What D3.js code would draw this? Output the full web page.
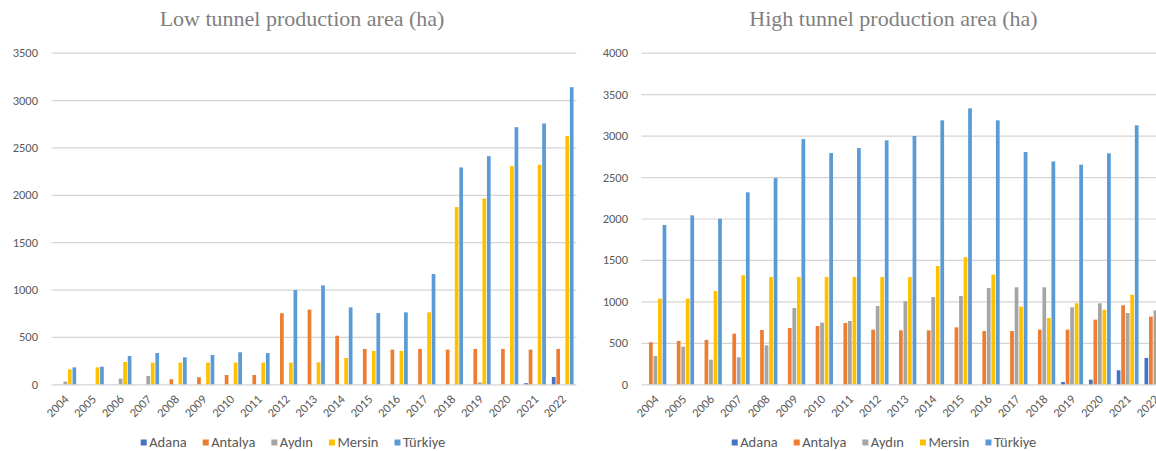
<!DOCTYPE html>
<html>
<head>
<meta charset="utf-8">
<script src="https://cdn.jsdelivr.net/npm/d3@7"></script>
<style>
  html, body { margin: 0; padding: 0; background: #fff; overflow: hidden; }
  svg { display: block; }
</style>
</head>
<body>
<svg id="chart" width="1156" height="451"></svg>
<script>
// ---------- data ----------
const years = ["2004","2005","2006","2007","2008","2009","2010","2011","2012","2013","2014","2015","2016","2017","2018","2019","2020","2021","2022"];
const seriesNames = ["Adana", "Antalya", "Aydın", "Mersin", "Türkiye"];
const seriesColors = ["#4472C4", "#ED7D31", "#A5A5A5", "#FFC000", "#5B9BD5"];

// Low tunnel production area (ha)
const lowAdana   = [0,0,0,0,0,0,0,0,0,0,0,0,0,0,0,0,0,12,77];
const lowAntalya = [0,0,0,0,53,74,98,98,750,788,513,373,366,373,366,373,373,366,373];
const lowAydin   = [28,0,60,88,0,0,0,0,0,0,0,0,0,0,0,20,0,0,0];
const lowMersin  = [158,179,236,229,229,229,229,229,229,232,278,352,352,760,1870,1962,2303,2317,2620];
const lowTurkiye = [179,186,299,330,285,309,338,330,995,1044,812,752,760,1164,2289,2408,2714,2753,3136];

// High tunnel production area (ha)
const highAdana   = [0,0,0,0,0,0,0,0,0,0,0,0,0,0,0,28,56,169,318];
const highAntalya = [507,523,535,611,655,679,703,740,659,651,651,687,643,643,659,659,780,953,816];
const highAydin   = [342,454,297,326,470,921,744,764,945,1001,1053,1065,1162,1170,1170,929,977,860,892];
const highMersin  = [1033,1033,1126,1315,1294,1294,1294,1294,1294,1294,1427,1532,1323,937,800,977,900,1081,1100];
const highTurkiye = [1922,2038,1998,2316,2488,2959,2790,2850,2943,2995,3184,3329,3184,2802,2689,2649,2786,3124,3200];

const lowTicks  = [0,500,1000,1500,2000,2500,3000,3500];
const highTicks = [0,500,1000,1500,2000,2500,3000,3500,4000];

const lowTitle  = "Low tunnel production area (ha)";
const highTitle = "High tunnel production area (ha)";

// ---------- drawing ----------
const svg = d3.select("#chart");
const sansFont = "Carlito, Lato, 'Liberation Sans', sans-serif";

function drawChart(cfg) {
  const g = svg.append("g");
  const x = d3.scaleBand().domain(years).range([cfg.x0, cfg.x1]).padding(0);
  const y = d3.scaleLinear().domain([0, cfg.yMax]).range([384.3, 52.7]);
  const groupW = x.bandwidth() * 0.815;
  const x1 = d3.scaleBand().domain(seriesNames).range([-groupW / 2, groupW / 2]);

  // gridlines
  const yAxis = d3.axisLeft(y).tickValues(cfg.ticks).tickSize(-(cfg.x1 - cfg.x0)).tickPadding(13.5).tickFormat(d3.format("d"));
  const ay = g.append("g").attr("transform", `translate(${cfg.x0},0)`).call(yAxis);
  ay.select(".domain").remove();
  ay.selectAll(".tick line").attr("stroke", "#d4d4d4").attr("stroke-width", 1.2);
  ay.selectAll(".tick text").attr("fill", "#595959").style("font-family", sansFont).style("font-size", "12.5px");

  // bars
  cfg.data.forEach((vals, si) => {
    const name = seriesNames[si];
    g.append("g").selectAll("rect").data(years.map((yr, i) => ({ yr, v: vals[i] })))
      .enter().append("rect")
      .attr("x", d => x(d.yr) + x.bandwidth() / 2 + x1(name) + 0.4)
      .attr("width", x1.bandwidth() - 0.8)
      .attr("y", d => y(d.v))
      .attr("height", d => y(0) - y(d.v))
      .attr("fill", seriesColors[si]);
  });

  // x labels
  g.append("g").selectAll("text").data(years).enter().append("text")
    .attr("transform", d => `translate(${x(d) + x.bandwidth() / 2 + 1},397) rotate(-45)`)
    .attr("text-anchor", "end")
    .attr("dy", "0.35em")
    .attr("fill", "#595959")
    .style("font-family", sansFont)
    .style("font-size", "12.5px")
    .text(d => d);

  // title
  g.append("text")
    .attr("x", cfg.titleX).attr("y", 26)
    .attr("text-anchor", "middle")
    .attr("fill", "#7f7f7f")
    .style("font-family", "'Liberation Serif', 'Times New Roman', serif")
    .style("font-size", "22px")
    .text(cfg.title);

  // legend
  const lg = g.append("g");
  let cx = cfg.legendX;
  seriesNames.forEach((name, si) => {
    lg.append("rect").attr("x", cx).attr("y", 439.5).attr("width", 6).attr("height", 6).attr("fill", seriesColors[si]);
    const t = lg.append("text").attr("x", cx + 8.5).attr("y", 447)
      .attr("fill", "#595959")
      .style("font-family", sansFont)
      .style("font-size", "14.5px")
      .text(name);
    cx += 8.5 + t.node().getComputedTextLength() + 16;
  });
}

drawChart({
  x0: 51.5, x1: 576.5, yMax: 3500, ticks: lowTicks,
  data: [lowAdana, lowAntalya, lowAydin, lowMersin, lowTurkiye],
  title: lowTitle, titleX: 302, legendX: 140.7
});
drawChart({
  x0: 641.5, x1: 1169.3, yMax: 4000, ticks: highTicks,
  data: [highAdana, highAntalya, highAydin, highMersin, highTurkiye],
  title: highTitle, titleX: 893.5, legendX: 731.7
});
</script>
</body>
</html>
